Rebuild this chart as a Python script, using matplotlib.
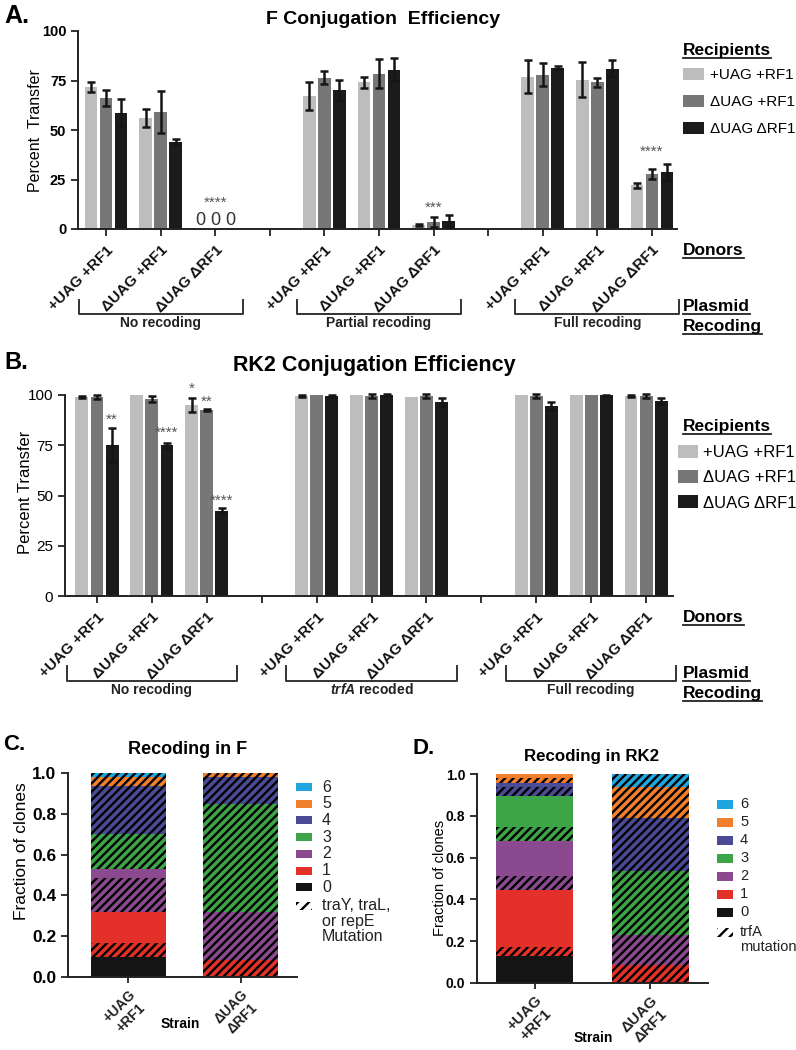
import numpy as np
import matplotlib
matplotlib.use('Agg')
import matplotlib.pyplot as plt
import matplotlib.transforms as mtrans
from matplotlib.patches import Rectangle
from matplotlib.lines import Line2D
from matplotlib.ticker import FormatStrFormatter

W, H = 796, 1050
plt.rcParams['font.family'] = ['Liberation Sans', 'DejaVu Sans']
plt.rcParams['hatch.linewidth'] = 1.7
plt.rcParams['mathtext.fontset'] = 'custom'
plt.rcParams['mathtext.it'] = 'Liberation Sans:italic:bold'
plt.rcParams['mathtext.rm'] = 'Liberation Sans:bold'

# ---------------- data ----------------
strains = ['+UAG +RF1', 'ΔUAG +RF1', 'ΔUAG ΔRF1']
group_x = [0, 1, 2, 4, 5, 6, 8, 9, 10]
n_slots = 11
f_plasmids = ['No recoding', 'Partial recoding', 'Full recoding']
rk_plasmids = ['No recoding', r'$\it{trfA}$ recoded', 'Full recoding']

# F conjugation (percent transfer), one list per recipient
f_plus_plus = [71.5, 56.0, 0.0, 67.0, 74.0, 2.0, 77.0, 75.5, 22.0]
f_del_plus = [66.0, 59.0, 0.0, 76.5, 78.5, 3.5, 78.0, 74.0, 28.0]
f_del_del = [58.5, 44.0, 0.0, 70.0, 80.5, 4.0, 81.5, 81.0, 29.0]
f_plus_plus_err = [2.5, 4.5, 0.0, 7.0, 3.0, 0.6, 8.5, 9.0, 1.2]
f_del_plus_err = [4.0, 10.5, 0.0, 3.5, 7.5, 2.5, 6.0, 2.3, 2.5]
f_del_del_err = [7.0, 1.3, 0.0, 5.5, 5.8, 3.0, 0.8, 4.3, 4.0]
# (slot, recipient index, label, y)
f_stars = [(2, 1, '****', 13.0), (6, 1, '***', 10.5), (10, 1, '****', 39.0)]

# RK2 conjugation
rk_plus_plus = [99.0, 100.0, 95.0, 99.5, 100.0, 99.0, 100.0, 100.0, 99.5]
rk_del_plus = [99.0, 98.0, 92.5, 100.0, 99.5, 99.5, 99.5, 100.0, 99.5]
rk_del_del = [75.0, 75.0, 42.5, 99.5, 99.8, 96.5, 94.5, 99.8, 97.0]
rk_plus_plus_err = [0.7, 0.0, 3.5, 0.7, 0.0, 0.0, 0.0, 0.0, 0.7]
rk_del_plus_err = [1.2, 1.5, 0.6, 0.0, 0.8, 0.8, 0.8, 0.0, 0.8]
rk_del_del_err = [8.5, 1.3, 1.2, 0.5, 0.5, 1.8, 1.8, 0.3, 1.6]
rk_stars = [(0, 2, '**', 87.5), (1, 2, '****', 81.0), (2, 0, '*', 103.0),
            (2, 1, '**', 96.5), (2, 2, '****', 47.5)]

# Recoding fractions (stacked segments, bottom to top)
strain_ticks = ['+UAG\n+RF1', 'ΔUAG\nΔRF1']
c_plus_cat = [0, 1, 1, 2, 2, 3, 4, 5, 6]
c_plus_hatch = [False, True, False, True, False, True, True, True, True]
c_plus_frac = [0.10, 0.067, 0.15, 0.168, 0.045, 0.173, 0.232, 0.045, 0.02]
c_del_cat = [1, 2, 3, 4, 5]
c_del_hatch = [True, True, True, True, True]
c_del_frac = [0.085, 0.232, 0.533, 0.13, 0.02]

d_plus_cat = [0, 1, 1, 2, 2, 3, 3, 4, 4, 5, 5]
d_plus_hatch = [False, True, False, True, False, True, False, True, False, True, False]
d_plus_frac = [0.128, 0.042, 0.277, 0.063, 0.17, 0.066, 0.15, 0.042, 0.019, 0.022, 0.021]
d_del_cat = [1, 2, 3, 4, 5, 6]
d_del_hatch = [True, True, True, True, True, True]
d_del_frac = [0.088, 0.143, 0.303, 0.255, 0.147, 0.064]

categories = ['0', '1', '2', '3', '4', '5', '6']

# ---------------- style ----------------
gray_colors = ['#bdbdbd', '#777777', '#1b1b1b']
cat_colors = ['#141414', '#e3312a', '#8b4a90', '#3da548', '#4b4a97', '#f27f2c', '#20a6df']
bar_offsets = [-0.275, 0.0, 0.275]
bar_width = 0.235
axis_col = '#222222'
HATCH = '////'

fig = plt.figure(figsize=(W / 100, H / 100), dpi=100)


def fx(px):
    return px / W


def fy(py):
    return 1 - py / H


def add_ax(l, t, r, b):
    return fig.add_axes([l / W, 1 - b / H, (r - l) / W, (b - t) / H])


underlined = []


def utext(px, py_base, s, **kw):
    t = fig.text(fx(px), fy(py_base), s, va='baseline', ha='left', **kw)
    underlined.append(t)
    return t


def style_axes(ax):
    for s in ['top', 'right']:
        ax.spines[s].set_visible(False)
    for s in ['left', 'bottom']:
        ax.spines[s].set_linewidth(1.4)
        ax.spines[s].set_color(axis_col)
    ax.tick_params(direction='out', length=5, width=1.3, color=axis_col)


def bar_panel(ax, series, errs, stars, xlim, ytick_kw, xfs):
    x = np.array(group_x, float)
    for i, (vals, err) in enumerate(zip(series, errs)):
        xs = x + bar_offsets[i]
        v = np.array(vals)
        e = np.array(err)
        ax.bar(xs, v, width=bar_width, color=gray_colors[i], label=strains[i], zorder=2)
        m = e > 0
        eb = ax.errorbar(xs[m], v[m], yerr=e[m], fmt='none', ecolor='#151515',
                         elinewidth=1.8, capsize=3, capthick=1.8, zorder=3)
        for art in eb.get_children():
            art.set_clip_on(False)
    for slot, r, s, y in stars:
        ax.text(slot + bar_offsets[r], y, s, ha='center', va='center',
                fontsize=11, color='#555555', zorder=4, clip_on=False)
    ax.set_xlim(*xlim)
    ax.set_ylim(0, 100)
    ax.set_yticks([0, 25, 50, 75, 100])
    style_axes(ax)
    for lab in ax.get_yticklabels():
        lab.set(**ytick_kw)
    ax.set_xticks(range(n_slots))
    labels = [''] * n_slots
    for k, gx in enumerate(group_x):
        labels[gx] = strains[k % 3]
    ax.set_xticklabels(labels, rotation=45, ha='right', rotation_mode='anchor',
                       fontsize=xfs, fontweight='bold', color='#111111')
    ax.tick_params(axis='x', pad=5)


def brackets(ax, names, y_line, y_top, y_text, ext):
    tr = mtrans.blended_transform_factory(ax.transData, fig.transFigure)
    for k, name in enumerate(names):
        x0 = group_x[3 * k] - ext
        x1 = group_x[3 * k + 2] + ext
        fig.add_artist(Line2D([x0, x0, x1, x1], [fy(y_top), fy(y_line), fy(y_line), fy(y_top)],
                              transform=tr, color='#333333', lw=1.4))
        fig.text((x0 + x1) / 2, fy(y_text), name, transform=tr, ha='center', va='center',
                 fontsize=10, fontweight='bold', color='#222222')


# ---------------- Panel A ----------------
axA = add_ax(78, 31, 677, 229)
bar_panel(axA, [f_plus_plus, f_del_plus, f_del_del],
          [f_plus_plus_err, f_del_plus_err, f_del_del_err], f_stars,
          (-0.513, 10.458), dict(fontsize=10.5, fontweight='bold'), 11)
for g, vals in enumerate(zip(f_plus_plus, f_del_plus, f_del_del)):
    for r, v in enumerate(vals):
        if v == 0:
            axA.text(group_x[g] + bar_offsets[r], 4.5, '0', ha='center', va='center',
                     fontsize=13, color='#333333')
brackets(axA, f_plasmids, 314, 300, 323, 0.5)
fig.text(fx(35), fy(131), 'Percent  Transfer', rotation=90, ha='center', va='center', fontsize=11.5)
fig.text(fx(383), fy(20), 'F Conjugation  Efficiency', ha='center', va='center',
         fontsize=14, fontweight='bold')
fig.text(fx(4), fy(16), 'A.', ha='left', va='center', fontsize=18, fontweight='bold')
axA.legend(loc='upper left', bbox_to_anchor=(fx(683), fy(68)), bbox_transform=fig.transFigure,
           frameon=False, fontsize=11, handlelength=1.4, handleheight=0.8,
           handletextpad=0.4, labelspacing=0.85, borderpad=0, borderaxespad=0)
utext(683, 55, 'Recipients', fontsize=12.5, fontweight='bold')
utext(683, 255, 'Donors', fontsize=12.5, fontweight='bold')
utext(683, 311, 'Plasmid', fontsize=12.5, fontweight='bold')
utext(683, 331, 'Recoding', fontsize=12.5, fontweight='bold')

# ---------------- Panel B ----------------
axB = add_ax(65, 395, 673, 596)
bar_panel(axB, [rk_plus_plus, rk_del_plus, rk_del_del],
          [rk_plus_plus_err, rk_del_plus_err, rk_del_del_err], rk_stars,
          (-0.583, 10.49), dict(fontsize=11), 11)
brackets(axB, rk_plasmids, 681, 666, 690, 0.55)
fig.text(fx(26), fy(492), 'Percent Transfer', rotation=90, ha='center', va='center', fontsize=12)
fig.text(fx(374), fy(365), 'RK2 Conjugation Efficiency', ha='center', va='center',
         fontsize=15.5, fontweight='bold')
fig.text(fx(4), fy(362), 'B.', ha='left', va='center', fontsize=17, fontweight='bold')
axB.legend(loc='upper left', bbox_to_anchor=(fx(678), fy(445)), bbox_transform=fig.transFigure,
           frameon=False, fontsize=12, handlelength=1.2, handleheight=0.8,
           handletextpad=0.3, labelspacing=0.6, borderpad=0, borderaxespad=0)
utext(683, 431, 'Recipients', fontsize=12.5, fontweight='bold')
utext(683, 622, 'Donors', fontsize=12.5, fontweight='bold')
utext(683, 678, 'Plasmid', fontsize=12.5, fontweight='bold')
utext(683, 698, 'Recoding', fontsize=12.5, fontweight='bold')


# ---------------- Panels C & D ----------------
def stacked_panel(ax, bars, width, xlim, tfs, xfs):
    for i, (cats, hatches, fracs) in enumerate(bars):
        bottom = 0.0
        for c, h, f in zip(cats, hatches, fracs):
            ax.bar(i, f, width=width, bottom=bottom, color=cat_colors[c],
                   hatch=HATCH if h else None, edgecolor='black', linewidth=0, zorder=2)
            bottom += f
    ax.set_xlim(*xlim)
    ax.set_ylim(0, 1.0)
    ax.set_yticks(np.arange(0, 1.01, 0.2))
    ax.yaxis.set_major_formatter(FormatStrFormatter('%.1f'))
    style_axes(ax)
    ax.tick_params(axis='x', length=4)
    for lab in ax.get_yticklabels():
        lab.set(fontsize=tfs, fontweight='bold')
    ax.set_xticks(range(len(bars)))
    ax.set_xticklabels(strain_ticks, rotation=45, ha='right', rotation_mode='anchor',
                       fontsize=xfs, fontweight='bold', multialignment='center', color='#222222')


def manual_legend(x0, y0, step, pw, ph, fs, hatch_label, ls, tx):
    for k in range(len(categories)):
        cat = len(categories) - 1 - k
        y = y0 + k * step
        fig.add_artist(Rectangle((fx(x0), fy(y + ph / 2)), pw / W, ph / H,
                                 transform=fig.transFigure, facecolor=cat_colors[cat], lw=0))
        fig.text(fx(tx), fy(y), categories[cat], ha='left', va='center', fontsize=fs, color='#222222')
    y = y0 + len(categories) * step + 2
    fig.add_artist(Rectangle((fx(x0), fy(y + ph / 2)), pw / W, ph / H, transform=fig.transFigure,
                             facecolor='white', hatch='///', edgecolor='black', lw=0))
    fig.text(fx(tx), fy(y - fs * 0.7), hatch_label, ha='left', va='top', fontsize=fs,
             linespacing=ls, color='#222222')


axC = add_ax(68, 773, 297, 977)
stacked_panel(axC, [(c_plus_cat, c_plus_hatch, c_plus_frac), (c_del_cat, c_del_hatch, c_del_frac)],
              0.67, (-0.54, 1.504), 12.5, 10)
fig.text(fx(22), fy(851), 'Fraction of clones', rotation=90, ha='center', va='center', fontsize=12.5)
fig.text(fx(188), fy(749), 'Recoding in F', ha='center', va='center', fontsize=13, fontweight='bold')
fig.text(fx(3), fy(745), 'C.', ha='left', va='center', fontsize=16, fontweight='bold')
fig.text(fx(180), fy(1024), 'Strain', ha='center', va='center', fontsize=10, fontweight='bold')
manual_legend(296, 787, 16.7, 16, 8, 11.5, 'traY, traL,\nor repE\nMutation', 1.06, 322)

axD = add_ax(477, 774, 708, 983)
stacked_panel(axD, [(d_plus_cat, d_plus_hatch, d_plus_frac), (d_del_cat, d_del_hatch, d_del_frac)],
              0.66, (-0.496, 1.496), 10, 11)
fig.text(fx(440), fy(878), 'Fraction of clones', rotation=90, ha='center', va='center', fontsize=10.5)
fig.text(fx(591), fy(757), 'Recoding in RK2', ha='center', va='center', fontsize=12.2, fontweight='bold')
fig.text(fx(413), fy(748), 'D.', ha='left', va='center', fontsize=16, fontweight='bold')
fig.text(fx(593), fy(1038), 'Strain', ha='center', va='center', fontsize=10, fontweight='bold')
manual_legend(717, 804, 18, 16, 9, 10.5, 'trfA\nmutation', 1.15, 740)

# underlines
fig.canvas.draw()
renderer = fig.canvas.get_renderer()
for t in underlined:
    bb = t.get_window_extent(renderer)
    x_, y_ = t.get_position()
    yb = y_ - 3.0 / H
    fig.add_artist(Line2D([bb.x0 / W, bb.x1 / W], [yb, yb], transform=fig.transFigure,
                          color='#222222', lw=1.3))

fig.savefig('out.png', dpi=100)
